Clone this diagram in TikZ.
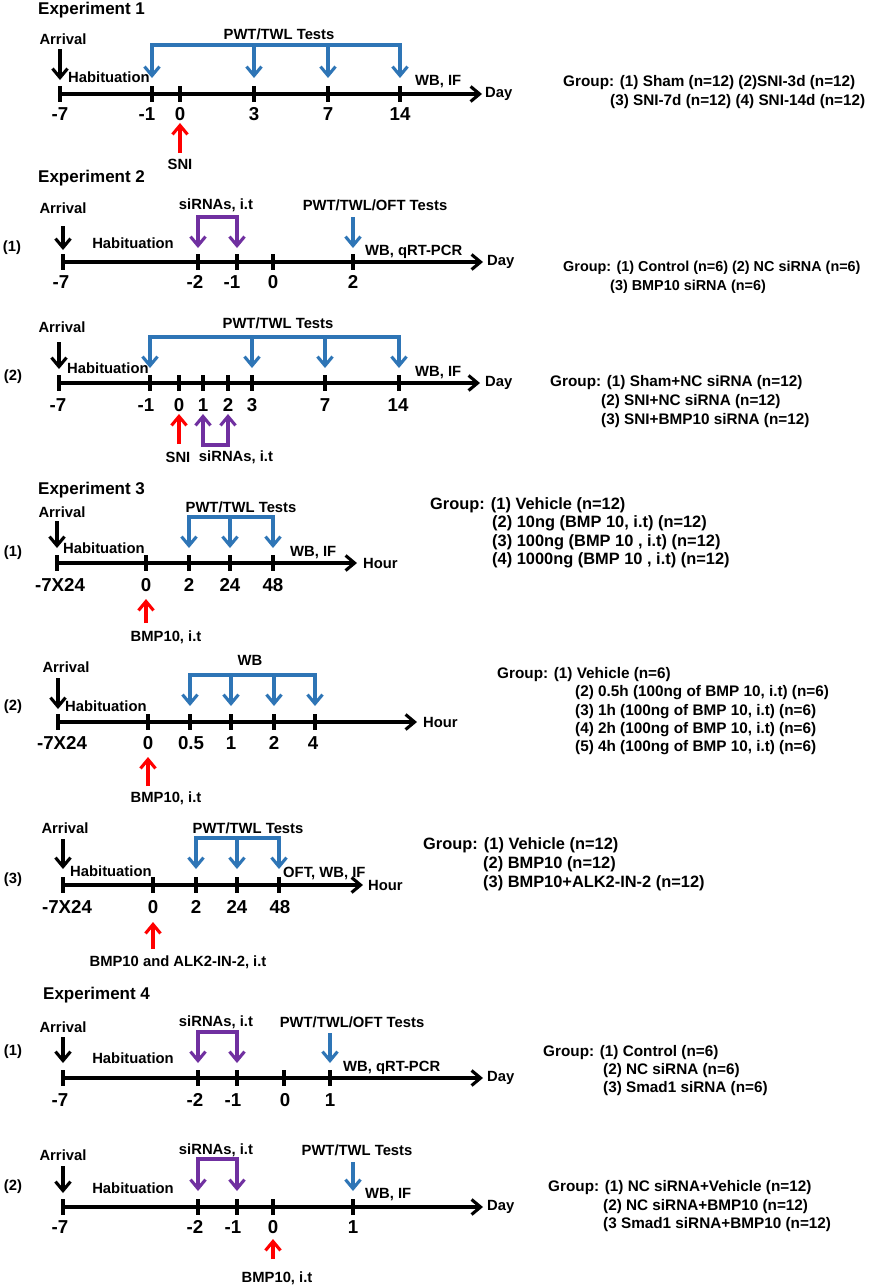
\documentclass[tikz,border=0pt]{standalone}
\usepackage{fontspec}
\setmainfont{Liberation Sans}
\usetikzlibrary{arrows.meta}
\definecolor{tlblue}{RGB}{46,117,182}
\definecolor{tlpurple}{RGB}{112,48,160}
\definecolor{tlred}{RGB}{255,0,0}
\begin{document}
\begin{tikzpicture}[x=1pt,y=-1pt,
  lab/.style={font=\fontsize{14.8}{17}\selectfont\bfseries,inner sep=0pt},
  num/.style={font=\fontsize{18.7}{21}\selectfont\bfseries,inner sep=0pt},
  ttl/.style={font=\fontsize{17}{20}\selectfont\bfseries,inner sep=0pt,anchor=west},
  grp/.style={font=\fontsize{15.3}{19}\selectfont\bfseries,inner sep=0pt,anchor=west},
  grpS/.style={font=\fontsize{14.4}{19}\selectfont\bfseries,inner sep=0pt,anchor=west},
  grpL/.style={font=\fontsize{16.4}{19}\selectfont\bfseries,inner sep=0pt,anchor=west},
  tline/.style={line width=3.4pt,-{Straight Barb[length=9pt,width=15pt,line width=3.1pt]}},
  tk/.style={line width=3.4pt},
  barb/.style={-{Straight Barb[length=9pt,width=15pt,line width=3.1pt]}},
  barbs/.style={{Straight Barb[length=9pt,width=15pt,line width=3.1pt]}-{Straight Barb[length=9pt,width=15pt,line width=3.1pt]}},
  blkar/.style={line width=3.1pt,barb},
  bluar/.style={draw=tlblue,line width=3.1pt,barb},
  blubr/.style={draw=tlblue,line width=3.1pt,barbs},
  purbr/.style={draw=tlpurple,line width=3.1pt,barbs},
  redar/.style={draw=tlred,line width=3.1pt,barb}]
\useasboundingbox (0,0) rectangle (872,1288);

% ================= Experiment 1
\node[ttl] (T1) at (38,10) {Experiment 1};
\node[lab] (A1) at (63,39) {Arrival};
\draw[blkar] (60,49) -- (60,80);
\node[lab,anchor=west] (H1) at (68,77) {Habituation};
\draw[tline] (60,94) -- (482,94);
\foreach \x/\l/\t in {60/60/-7,152/147/-1,180/180/0,254/254/3,328/328/7,400/400/14}{
  \draw[tk] (\x,86) -- (\x,102);
  \node[num] (L1-\x) at (\l,114) {\t};}
\node[lab] (P1) at (279,34) {PWT/TWL Tests};
\draw[blubr] (152,78) -- (152,45) -- (400,45) -- (400,78);
\foreach \x in {254,328}{\draw[bluar] (\x,45) -- (\x,78);}
\node[lab,anchor=west] (W1) at (415,82) {WB, IF};
\node[lab,anchor=west] (D1) at (485,94) {Day};
\draw[redar] (180,153) -- (180,123);
\node[lab] (S1) at (180,164) {SNI};
\node[grp] (G1a) at (563,83) {Group: (1) Sham (n=12) (2)SNI-3d (n=12)};
\node[grp] (G1b) at (610,102) {(3) SNI-7d (n=12) (4) SNI-14d (n=12)};

% ================= Experiment 2 (1)
\node[ttl] (T2) at (38,178) {Experiment 2};
\node[lab] (N21) at (12,248) {(1)};
\node[lab] (A21) at (63,208) {Arrival};
\draw[blkar] (63,226) -- (63,250);
\node[lab] (H21) at (133,243) {Habituation};
\draw[tline] (63,262) -- (483,262);
\foreach \x/\l/\t in {63/61/-7,198/195/-2,237/232/-1,273/273/0,353/353/2}{
  \draw[tk] (\x,254) -- (\x,270);
  \node[num] (L21-\x) at (\l,282) {\t};}
\node[lab] (Si21) at (216,205) {siRNAs, i.t};
\draw[purbr] (198,248) -- (198,217) -- (237,217) -- (237,248);
\node[lab] (P21) at (375,205) {PWT/TWL/OFT Tests};
\draw[bluar] (353,217) -- (353,248);
\node[lab,anchor=west] (W21) at (365,252) {WB, qRT-PCR};
\node[lab,anchor=west] (D21) at (487,262) {Day};
\node[grpS] (G21a) at (563,268) {Group: (1) Control (n=6) (2) NC siRNA (n=6)};
\node[grpS] (G21b) at (610,287) {(3) BMP10 siRNA (n=6)};

% ================= Experiment 2 (2)
\node[lab] (N22) at (13,377) {(2)};
\node[lab] (A22) at (62,327) {Arrival};
\draw[blkar] (59,342) -- (59,369);
\node[lab,anchor=west] (H22) at (67,368) {Habituation};
\draw[tline] (59,383) -- (480,383);
\foreach \x/\l/\t in {59/58/-7,150/146/-1,179/179/0,203/203/1,228/228/2,252/252/3,325/325/7,399/398/14}{
  \draw[tk] (\x,375) -- (\x,391);
  \node[num] (L22-\x) at (\l,405) {\t};}
\node[lab] (P22) at (278,323) {PWT/TWL Tests};
\draw[blubr] (150,368) -- (150,337) -- (399,337) -- (399,368);
\foreach \x in {252,325}{\draw[bluar] (\x,337) -- (\x,368);}
\node[lab,anchor=west] (W22) at (415,373) {WB, IF};
\node[lab,anchor=west] (D22) at (485,383) {Day};
\draw[redar] (179,444) -- (179,414);
\node[lab] (S22) at (178,457) {SNI};
\draw[purbr] (203,414) -- (203,445) -- (228,445) -- (228,414);
\node[lab] (Si22) at (236,457) {siRNAs, i.t};
\node[grp] (G22a) at (550,383) {Group: (1) Sham+NC siRNA (n=12)};
\node[grp] (G22b) at (601,402) {(2) SNI+NC siRNA (n=12)};
\node[grp] (G22c) at (601,421) {(3) SNI+BMP10 siRNA (n=12)};

% ================= Experiment 3 (1)
\node[ttl] (T3) at (38,490) {Experiment 3};
\node[lab] (N31) at (13,553) {(1)};
\node[lab] (A31) at (62,512) {Arrival};
\draw[blkar] (57,521) -- (57,548);
\node[lab,anchor=west] (H31) at (63,548) {Habituation};
\draw[tline] (57,563) -- (357,563);
\foreach \x/\l/\t in {57/60/-7X24,146/146/0,189/189/2,230/230/24,273/273/48}{
  \draw[tk] (\x,555) -- (\x,571);
  \node[num] (L31-\x) at (\l,585) {\t};}
\node[lab] (P31) at (241,507) {PWT/TWL Tests};
\draw[blubr] (189,548) -- (189,517) -- (273,517) -- (273,548);
\draw[bluar] (230,517) -- (230,548);
\node[lab,anchor=west] (W31) at (290,553) {WB, IF};
\node[lab,anchor=west] (D31) at (363,563) {Hour};
\draw[redar] (146,623) -- (146,599);
\node[lab] (B31) at (166,637) {BMP10, i.t};
\node[grpL] (G31a) at (430,505) {Group: (1) Vehicle (n=12)};
\node[grpL] (G31b) at (492,523) {(2) 10ng (BMP 10, i.t) (n=12)};
\node[grpL] (G31c) at (492,542) {(3) 100ng (BMP 10 , i.t) (n=12)};
\node[grpL] (G31d) at (492,560) {(4) 1000ng (BMP 10 , i.t) (n=12)};

% ================= Experiment 3 (2)
\node[lab] (N32) at (13,707) {(2)};
\node[lab] (A32) at (66,667) {Arrival};
\draw[blkar] (58,678) -- (58,709);
\node[lab,anchor=west] (H32) at (65,706) {Habituation};
\draw[tline] (58,722) -- (417,722);
\foreach \x/\l/\t in {58/62/-7X24,148/148/0,190/191/0.5,231/231/1,274/274/2,315/313/4}{
  \draw[tk] (\x,714) -- (\x,730);
  \node[num] (L32-\x) at (\l,743) {\t};}
\node[lab] (P32) at (250,660) {WB};
\draw[blubr] (190,706) -- (190,675) -- (315,675) -- (315,706);
\foreach \x in {231,274}{\draw[bluar] (\x,675) -- (\x,706);}
\node[lab,anchor=west] (D32) at (423,722) {Hour};
\draw[redar] (148,786) -- (148,757);
\node[lab] (B32) at (166,798) {BMP10, i.t};
\node[grp] (G32a) at (497,675) {Group: (1) Vehicle (n=6)};
\node[grp] (G32b) at (575,693) {(2) 0.5h (100ng of BMP 10, i.t) (n=6)};
\node[grp] (G32c) at (575,712) {(3) 1h (100ng of BMP 10, i.t) (n=6)};
\node[grp] (G32d) at (575,730) {(4) 2h (100ng of BMP 10, i.t) (n=6)};
\node[grp] (G32e) at (575,748) {(5) 4h (100ng of BMP 10, i.t) (n=6)};

% ================= Experiment 3 (3)
\node[lab] (N33) at (13,880) {(3)};
\node[lab] (A33) at (65,828) {Arrival};
\draw[blkar] (63,839) -- (63,869);
\node[lab,anchor=west] (H33) at (70,871) {Habituation};
\draw[tline] (63,885) -- (363,885);
\foreach \x/\l/\t in {63/67/-7X24,153/153/0,196/196/2,237/237/24,279/280/48}{
  \draw[tk] (\x,877) -- (\x,893);
  \node[num] (L33-\x) at (\l,907) {\t};}
\node[lab] (P33) at (248,828) {PWT/TWL Tests};
\draw[blubr] (196,869) -- (196,838) -- (279,838) -- (279,869);
\draw[bluar] (237,838) -- (237,869);
\node[lab,anchor=west] (W33) at (283,873) {OFT, WB, IF};
\node[lab,anchor=west] (D33) at (368,885) {Hour};
\draw[redar] (153,949) -- (153,922);
\node[lab] (B33) at (178,962) {BMP10 and ALK2-IN-2, i.t};
\node[grpL] (G33a) at (423,845) {Group: (1) Vehicle (n=12)};
\node[grpL] (G33b) at (483,864) {(2) BMP10 (n=12)};
\node[grpL] (G33c) at (483,883) {(3) BMP10+ALK2-IN-2 (n=12)};

% ================= Experiment 4 (1)
\node[ttl] (T4) at (43,995) {Experiment 4};
\node[lab] (N41) at (13,1052) {(1)};
\node[lab] (A41) at (63,1027) {Arrival};
\draw[blkar] (63,1037) -- (63,1063);
\node[lab] (H41) at (133,1058) {Habituation};
\draw[tline] (63,1078) -- (483,1078);
\foreach \x/\l/\t in {63/60/-7,198/195/-2,237/233/-1,284/285/0,330/330/1}{
  \draw[tk] (\x,1070) -- (\x,1086);
  \node[num] (L41-\x) at (\l,1100) {\t};}
\node[lab] (Si41) at (216,1022) {siRNAs, i.t};
\draw[purbr] (198,1063) -- (198,1032) -- (237,1032) -- (237,1063);
\node[lab] (P41) at (352,1022) {PWT/TWL/OFT Tests};
\draw[bluar] (330,1033) -- (330,1063);
\node[lab,anchor=west] (W41) at (343,1068) {WB, qRT-PCR};
\node[lab,anchor=west] (D41) at (487,1078) {Day};
\node[grp] (G41a) at (543,1053) {Group: (1) Control (n=6)};
\node[grp] (G41b) at (603,1071) {(2) NC siRNA (n=6)};
\node[grp] (G41c) at (603,1089) {(3) Smad1 siRNA (n=6)};

% ================= Experiment 4 (2)
\node[lab] (N42) at (13,1187) {(2)};
\node[lab] (A42) at (63,1155) {Arrival};
\draw[blkar] (63,1166) -- (63,1193);
\node[lab] (H42) at (133,1188) {Habituation};
\draw[tline] (63,1207) -- (483,1207);
\foreach \x/\l/\t in {63/60/-7,198/195/-2,237/233/-1,273/273/0,353/353/1}{
  \draw[tk] (\x,1199) -- (\x,1215);
  \node[num] (L42-\x) at (\l,1227) {\t};}
\node[lab] (Si42) at (216,1150) {siRNAs, i.t};
\draw[purbr] (198,1191) -- (198,1159) -- (237,1159) -- (237,1191);
\node[lab] (P42) at (357,1150) {PWT/TWL Tests};
\draw[bluar] (353,1162) -- (353,1191);
\node[lab,anchor=west] (W42) at (365,1195) {WB, IF};
\node[lab,anchor=west] (D42) at (487,1207) {Day};
\draw[redar] (273,1259) -- (273,1239);
\node[lab] (B42) at (277,1278) {BMP10, i.t};
\node[grp] (G42a) at (548,1188) {Group: (1) NC siRNA+Vehicle (n=12)};
\node[grp] (G42b) at (603,1207) {(2) NC siRNA+BMP10 (n=12)};
\node[grp] (G42c) at (603,1225) {(3 Smad1 siRNA+BMP10 (n=12)};
\end{tikzpicture}
\end{document}
